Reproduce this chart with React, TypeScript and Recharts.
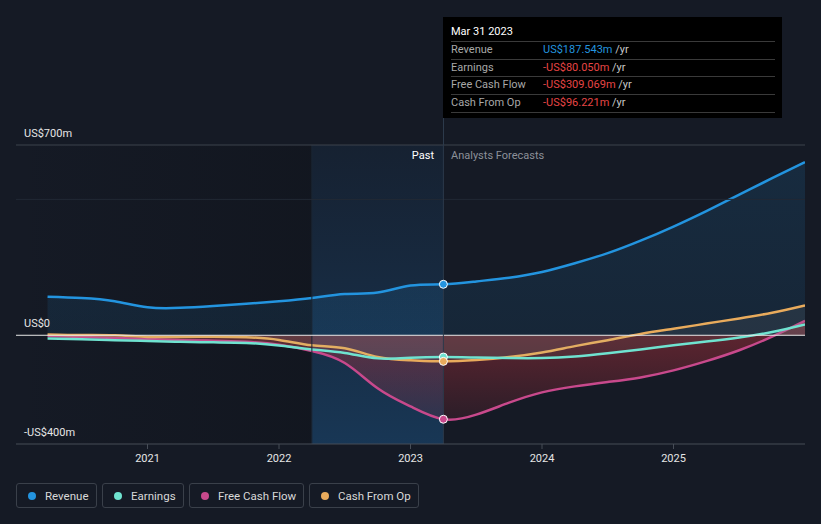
import React from "react";
import {
  Area,
  ComposedChart,
  ReferenceArea,
  ReferenceDot,
  ReferenceLine,
  XAxis,
  YAxis,
} from "recharts";

// fractional years
const times: number[] = [
  2020.24, 2020.5, 2020.75, 2021.0, 2021.25, 2021.5, 2021.75, 2022.0, 2022.25,
  2022.5, 2022.75, 2023.0, 2023.25, 2023.5, 2023.75, 2024.0, 2024.25, 2024.5,
  2024.75, 2025.0, 2025.25, 2025.5, 2025.75, 2026.0,
];

const revenue: number[] = [
  142, 137, 125, 103, 101, 108, 116, 125, 137, 152, 157, 183, 187.5, 198, 212,
  233, 265, 302, 348, 400, 457, 517, 578, 637,
];
const earnings: number[] = [
  -12, -15, -18, -21, -24, -26, -28, -38, -52, -65, -85, -83, -80, -82, -84,
  -84, -78, -66, -52, -37, -23, -8, 12, 40,
];
const freeCashFlow: number[] = [
  -3, -6, -10, -14, -18, -20, -24, -35, -58, -102, -195, -262, -309, -292,
  -248, -210, -188, -172, -155, -129, -95, -55, -5, 53,
];
const cashFromOp: number[] = [
  3, 1, 0, -6, -6, -5, -7, -17, -37, -48, -80, -92, -96, -91, -80, -63, -40,
  -18, 5, 24, 43, 62, 83, 110,
];

const yTicks: number[] = [-400, 0, 700];
const xTicks: number[] = [2021, 2022, 2023, 2024, 2025];

const pastIndex = 12;
const pastStart = 2022.25;

const tooltipTitle = "Mar 31 2023";
const tooltipRows = [
  { label: "Revenue", value: "US$187.543m", color: "#2394df" },
  { label: "Earnings", value: "-US$80.050m", color: "#e64545" },
  { label: "Free Cash Flow", value: "-US$309.069m", color: "#e64545" },
  { label: "Cash From Op", value: "-US$96.221m", color: "#e64545" },
];

const series = [
  { name: "Revenue", key: "revenue", color: "#2394df", w: 81 },
  { name: "Earnings", key: "earnings", color: "#6fe3d0", w: 82 },
  { name: "Free Cash Flow", key: "fcf", color: "#c8498c", w: 115 },
  { name: "Cash From Op", key: "cfo", color: "#e9ab5c", w: 110 },
];

const data = times.map((t, i) => ({
  t,
  revenue: revenue[i],
  earnings: earnings[i],
  fcf: freeCashFlow[i],
  cfo: cashFromOp[i],
}));

const fmtY = (v: number) =>
  v === 0 ? "US$0" : v < 0 ? `-US$${Math.abs(v)}m` : `US$${v}m`;

const FONT = "Roboto, 'Noto Sans', sans-serif";

const yLabel = (v: number) => (props: any) => {
  const vb = props.viewBox || {};
  return (
    <text x={24} y={vb.y - 8} fill="#e6e6e6" fontSize={11} textAnchor="start">
      {fmtY(v)}
    </text>
  );
};

export default function App() {
  return (
    <div
      style={{
        position: "absolute",
        left: 0,
        top: 0,
        width: 821,
        height: 524,
        background: "#151a25",
        fontFamily: FONT,
        overflow: "hidden",
      }}
    >
      <ComposedChart
        width={821}
        height={524}
        data={data}
        margin={{ top: 145, right: 16, left: 16, bottom: 50 }}
        style={{ fontFamily: FONT }}
      >
        <defs>
          <linearGradient id="leftShade" x1="0" y1="0" x2="1" y2="0">
            <stop offset="0%" stopColor="#0d1016" stopOpacity={0} />
            <stop offset="100%" stopColor="#0d1016" stopOpacity={0.35} />
          </linearGradient>
          <linearGradient id="pastShade" x1="0" y1="0" x2="0" y2="1">
            <stop offset="0%" stopColor="#1c4b78" stopOpacity={0.15} />
            <stop offset="100%" stopColor="#1c5a90" stopOpacity={0.45} />
          </linearGradient>
          <linearGradient id="revFill" x1="0" y1="0" x2="0" y2="1">
            <stop offset="0%" stopColor="#2394df" stopOpacity={0.14} />
            <stop offset="100%" stopColor="#2394df" stopOpacity={0.1} />
          </linearGradient>
          <linearGradient id="negFill" x1="0" y1="0" x2="0" y2="1">
            <stop offset="0%" stopColor="#c8343f" stopOpacity={0.45} />
            <stop offset="100%" stopColor="#c8343f" stopOpacity={0.12} />
          </linearGradient>
        </defs>

        <ReferenceArea
          x1={2020}
          x2={pastStart}
          y1={-400}
          y2={700}
          fill="url(#leftShade)"
          fillOpacity={1}
          stroke="none"
        />
        <ReferenceArea
          x1={pastStart}
          x2={times[pastIndex]}
          y1={-400}
          y2={700}
          fill="url(#pastShade)"
          fillOpacity={1}
          stroke="none"
        />
        <ReferenceLine x={pastStart} stroke="#1b2634" strokeWidth={1} />
        <ReferenceLine
          y={700}
          stroke="#3c424d"
          strokeWidth={1}
          label={yLabel(yTicks[2])}
        />
        <ReferenceLine y={500} stroke="#222935" strokeWidth={1} />

        <XAxis
          dataKey="t"
          type="number"
          domain={[2020, 2026]}
          ticks={xTicks}
          allowDataOverflow
          stroke="#474d57"
          tickSize={5}
          tickMargin={5}
          tick={{ fill: "#e6e6e6", fontSize: 11 }}
          tickFormatter={(v: number) => String(v)}
        />
        <YAxis
          type="number"
          domain={[-400, 700]}
          ticks={yTicks}
          hide
          allowDataOverflow
        />

        <Area
          type="natural"
          dataKey="revenue"
          stroke="#2394df"
          strokeWidth={2.5}
          fill="url(#revFill)"
          fillOpacity={1}
          isAnimationActive={false}
          dot={false}
          activeDot={false}
        />
        <Area
          type="natural"
          dataKey="fcf"
          stroke="#c8498c"
          strokeWidth={2.5}
          fill="url(#negFill)"
          fillOpacity={1}
          isAnimationActive={false}
          dot={false}
          activeDot={false}
        />
        <Area
          type="natural"
          dataKey="cfo"
          stroke="#e9ab5c"
          strokeWidth={2.5}
          fill="#8a8a8a"
          fillOpacity={0.14}
          isAnimationActive={false}
          dot={false}
          activeDot={false}
        />
        <Area
          type="natural"
          dataKey="earnings"
          stroke="#6fe3d0"
          strokeWidth={2.5}
          fill="#6fe3d0"
          fillOpacity={0.05}
          isAnimationActive={false}
          dot={false}
          activeDot={false}
        />

        <ReferenceLine
          y={0}
          stroke="#e8e8e8"
          strokeWidth={1}
          label={yLabel(yTicks[1])}
        />
        <ReferenceLine y={-400} stroke="none" label={yLabel(yTicks[0])} />
        <ReferenceLine x={times[pastIndex]} stroke="#2c3a4b" strokeWidth={1} />

        <ReferenceDot
          x={times[pastIndex]}
          y={revenue[pastIndex]}
          r={4}
          fill="#2394df"
          stroke="#ffffff"
          strokeWidth={1}
        />
        <ReferenceDot
          x={times[pastIndex]}
          y={earnings[pastIndex]}
          r={4}
          fill="#6fe3d0"
          stroke="#ffffff"
          strokeWidth={1}
        />
        <ReferenceDot
          x={times[pastIndex]}
          y={cashFromOp[pastIndex]}
          r={4}
          fill="#e9ab5c"
          stroke="#ffffff"
          strokeWidth={1}
        />
        <ReferenceDot
          x={times[pastIndex]}
          y={freeCashFlow[pastIndex]}
          r={4}
          fill="#c8498c"
          stroke="#ffffff"
          strokeWidth={1}
        />
      </ComposedChart>

      {/* cursor line above plot */}
      <div
        style={{
          position: "absolute",
          left: 443,
          top: 17,
          width: 1,
          height: 128,
          background: "#2c3a4b",
        }}
      />

      {/* Past / forecast labels */}
      <div
        style={{
          position: "absolute",
          right: 821 - 434,
          top: 149,
          fontSize: 11,
          color: "#ffffff",
        }}
      >
        Past
      </div>
      <div
        style={{
          position: "absolute",
          left: 451,
          top: 149,
          fontSize: 11,
          color: "#8c9099",
        }}
      >
        Analysts Forecasts
      </div>

      {/* tooltip */}
      <div
        style={{
          position: "absolute",
          left: 443,
          top: 17,
          width: 339,
          height: 101,
          background: "#000000",
          fontSize: 11,
        }}
      >
        <div
          style={{
            position: "absolute",
            left: 8,
            top: 8,
            color: "#ffffff",
          }}
        >
          {tooltipTitle}
        </div>
        {tooltipRows.map((r, i) => (
          <div
            key={r.label}
            style={{
              position: "absolute",
              left: 8,
              top: 24 + i * 17.5,
              width: 324,
              height: 17.5,
              borderTop: "1px solid #3a3a3a",
              borderBottom:
                i === tooltipRows.length - 1 ? "1px solid #3a3a3a" : "none",
              lineHeight: "16px",
              color: "#a8a8a8",
            }}
          >
            <span style={{ position: "absolute", left: 0 }}>{r.label}</span>
            <span
              style={{ position: "absolute", left: 92, whiteSpace: "nowrap" }}
            >
              <span style={{ color: r.color }}>{r.value}</span>
              <span style={{ color: "#c8c8c8" }}> /yr</span>
            </span>
          </div>
        ))}
      </div>

      {/* legend */}
      <div
        style={{
          position: "absolute",
          left: 16,
          top: 483,
          display: "flex",
          gap: 5,
        }}
      >
        {series.map((s) => (
          <div
            key={s.key}
            style={{
              width: s.w,
              height: 25,
              boxSizing: "border-box",
              border: "1px solid #3a404a",
              borderRadius: 3,
              display: "flex",
              alignItems: "center",
              padding: "0 0 0 11px",
              fontSize: 11.5,
              color: "#d8d8d8",
            }}
          >
            <span
              style={{
                width: 8,
                height: 8,
                borderRadius: 4,
                background: s.color,
                marginRight: 9,
              }}
            />
            {s.name}
          </div>
        ))}
      </div>
    </div>
  );
}
